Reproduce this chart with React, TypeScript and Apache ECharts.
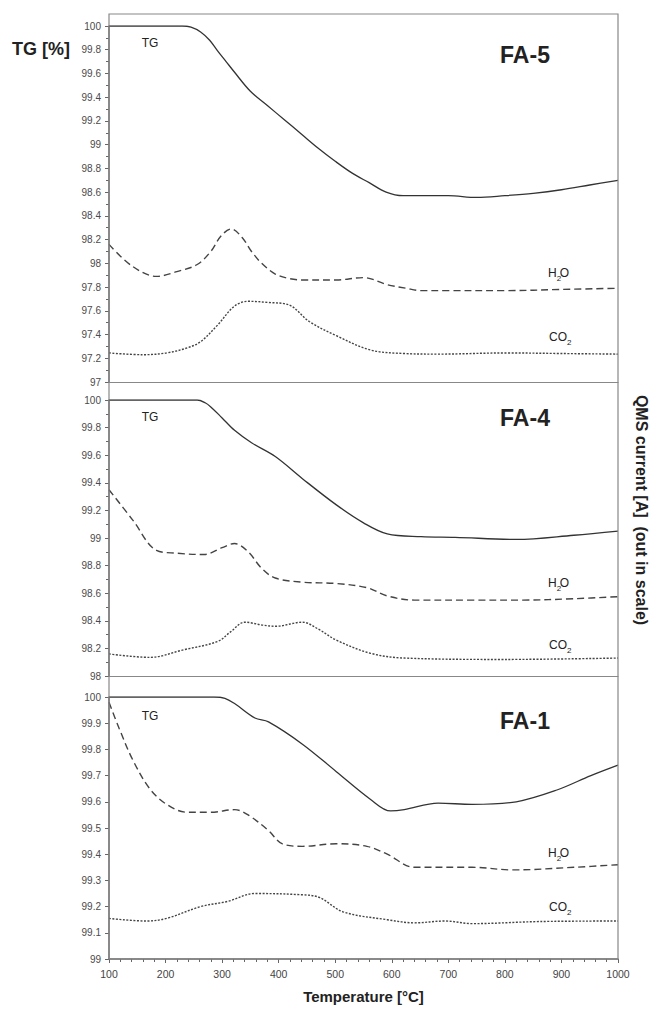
import React, { useEffect, useRef } from "react";
import * as echarts from "echarts";

// ---------- DATA ----------
// FA-5 (top panel)
const fa5TgT = [100, 200, 230, 245, 262, 278, 292, 307, 322, 350, 380, 410, 440, 470, 500, 530, 560, 590, 620, 650, 700, 750, 800, 850, 900, 950, 1000];
const fa5TgV = [100, 100, 100, 99.99, 99.95, 99.88, 99.79, 99.7, 99.61, 99.45, 99.33, 99.21, 99.09, 98.97, 98.86, 98.76, 98.68, 98.6, 98.57, 98.57, 98.57, 98.555, 98.57, 98.59, 98.62, 98.66, 98.7];
const fa5H2oT = [100, 140, 184, 220, 256, 280, 298, 316, 335, 352, 370, 394, 420, 442, 502, 550, 592, 625, 652, 700, 800, 900, 1000];
const fa5H2oV = [98.16, 97.98, 97.89, 97.93, 97.99, 98.1, 98.23, 98.29, 98.22, 98.1, 98.0, 97.91, 97.87, 97.86, 97.86, 97.88, 97.82, 97.79, 97.77, 97.77, 97.77, 97.78, 97.79];
const fa5Co2T = [100, 160, 202, 240, 262, 292, 322, 346, 382, 418, 454, 502, 562, 622, 682, 802, 900, 1000];
const fa5Co2V = [97.245, 97.23, 97.245, 97.29, 97.34, 97.48, 97.64, 97.68, 97.67, 97.65, 97.51, 97.39, 97.27, 97.24, 97.235, 97.245, 97.24, 97.235];

// FA-4 (middle panel)
const fa4TgT = [100, 200, 256, 270, 280, 300, 322, 352, 394, 442, 502, 550, 592, 652, 712, 820, 922, 1000];
const fa4TgV = [100, 100, 100, 99.98, 99.95, 99.87, 99.78, 99.69, 99.59, 99.43, 99.24, 99.11, 99.03, 99.01, 99.005, 98.99, 99.02, 99.05];
const fa4H2oT = [100, 142, 184, 220, 268, 300, 322, 346, 370, 394, 442, 502, 556, 592, 640, 742, 832, 922, 1000];
const fa4H2oV = [99.35, 99.13, 98.91, 98.89, 98.88, 98.93, 98.96, 98.9, 98.78, 98.71, 98.68, 98.67, 98.64, 98.58, 98.55, 98.55, 98.55, 98.56, 98.575];
const fa4Co2T = [100, 172, 232, 292, 315, 340, 370, 394, 442, 470, 502, 562, 622, 800, 1000];
const fa4Co2V = [98.16, 98.135, 98.19, 98.25, 98.32, 98.39, 98.37, 98.36, 98.39, 98.34, 98.26, 98.165, 98.13, 98.12, 98.13];

// FA-1 (bottom panel)
const fa1TgT = [100, 200, 286, 305, 322, 358, 382, 442, 502, 562, 598, 622, 682, 742, 820, 892, 952, 1000];
const fa1TgV = [100, 100, 100, 99.995, 99.975, 99.92, 99.905, 99.82, 99.715, 99.61, 99.565, 99.57, 99.595, 99.59, 99.6, 99.645, 99.7, 99.74];
const fa1H2oT = [100, 118, 142, 172, 202, 238, 280, 322, 346, 382, 406, 442, 502, 556, 592, 640, 742, 814, 922, 1000];
const fa1H2oV = [99.98, 99.88, 99.76, 99.65, 99.59, 99.56, 99.56, 99.57, 99.55, 99.49, 99.44, 99.43, 99.44, 99.43, 99.4, 99.35, 99.35, 99.34, 99.35, 99.36];
const fa1Co2T = [100, 166, 202, 262, 310, 358, 442, 472, 514, 592, 640, 694, 742, 862, 1000];
const fa1Co2V = [99.155, 99.145, 99.155, 99.2, 99.22, 99.25, 99.245, 99.235, 99.18, 99.15, 99.138, 99.145, 99.135, 99.143, 99.145];

// Axis definitions
const panelNames = ["FA-5", "FA-4", "FA-1"];
const yMins = [97, 98, 99];
const yMaxs = [100, 100, 100];
const yIntervals = [0.2, 0.2, 0.1];
const yMinorSplits = [2, 2, 0];
const xMin = 100;
const xMax = 1000;
const xInterval = 100;

// ---------- LAYOUT ----------
const FONT = '"Liberation Sans", Arial, sans-serif';
const PLOT_L = 109;
const PLOT_R = 618;
const FRAME_TOP = 14;
const grids = [
  { top: 26, bottom: 382 },
  { top: 400, bottom: 676 },
  { top: 697, bottom: 959 },
];
const INK = "#333";
const AXIS = "#666";

const zip = (t: number[], v: number[]) => t.map((x, i) => [x, v[i]]);

const panelSeries = [
  { tg: zip(fa5TgT, fa5TgV), h2o: zip(fa5H2oT, fa5H2oV), co2: zip(fa5Co2T, fa5Co2V) },
  { tg: zip(fa4TgT, fa4TgV), h2o: zip(fa4H2oT, fa4H2oV), co2: zip(fa4Co2T, fa4Co2V) },
  { tg: zip(fa1TgT, fa1TgV), h2o: zip(fa1H2oT, fa1H2oV), co2: zip(fa1Co2T, fa1Co2V) },
];

const labelY = [
  { tg: 43, name: 55, h2o: 273, co2: 337 },
  { tg: 417, name: 418, h2o: 583, co2: 645 },
  { tg: 716, name: 721, h2o: 853, co2: 907 },
];

function txt(x: number, y: number, text: string, size: number, bold = false, align = "left", extra: any = {}) {
  return {
    type: "text",
    x,
    y,
    silent: true,
    ...extra,
    style: {
      text,
      fontSize: size,
      fontWeight: bold ? "bold" : "normal",
      fontFamily: FONT,
      fill: "#222",
      align,
      verticalAlign: "middle",
    },
  };
}

function chem(x0: number, y: number, a: string, aw: number, sub: string, b: string, subShift: number) {
  const els: any[] = [txt(x0, y, a, 12, false, "left", {}), txt(x0 + aw, y + 5, sub, 8, false, "left", {})];
  if (b) els.push(txt(x0 + aw + subShift, y, b, 12, false, "left", {}));
  return els;
}

function buildOption() {
  const gridOpts = grids.map((g) => ({
    left: PLOT_L,
    width: PLOT_R - PLOT_L,
    top: g.top,
    height: g.bottom - g.top,
    containLabel: false,
  }));

  const xAxes = grids.map((_, i) => {
    const last = i === grids.length - 1;
    return {
      type: "value",
      gridIndex: i,
      min: xMin,
      max: xMax,
      interval: xInterval,
      axisLine: { show: true, lineStyle: { color: last ? AXIS : "#888", width: last ? 1.5 : 1.2 } },
      axisTick: { show: last, inside: false, length: 4, lineStyle: { color: AXIS } },
      minorTick: { show: last, splitNumber: 5, length: 3, lineStyle: { color: AXIS } },
      axisLabel: {
        show: last,
        color: "#444",
        fontSize: 10.5,
        fontFamily: FONT,
        margin: 9,
        formatter: (v: number) => String(v),
      },
      splitLine: { show: false },
      minorSplitLine: { show: false },
    };
  });

  const yAxes = grids.map((_, i) => ({
    type: "value",
    gridIndex: i,
    min: yMins[i],
    max: yMaxs[i],
    interval: yIntervals[i],
    axisLine: { show: true, lineStyle: { color: AXIS, width: 1.5 } },
    axisTick: { show: true, length: 4, lineStyle: { color: AXIS } },
    minorTick: { show: yMinorSplits[i] > 0, splitNumber: yMinorSplits[i] || 2, length: 3, lineStyle: { color: AXIS } },
    axisLabel: { color: "#4a4a4a", fontSize: 10, fontFamily: FONT, margin: 8 },
    splitLine: { show: false },
    minorSplitLine: { show: false },
  }));

  const series: any[] = [];
  panelSeries.forEach((p, i) => {
    const base = { type: "line", xAxisIndex: i, yAxisIndex: i, showSymbol: false, symbol: "none", smooth: 0.35, silent: true };
    series.push({ ...base, name: panelNames[i] + " TG", data: p.tg, lineStyle: { color: INK, width: 1.3, type: "solid" } });
    series.push({ ...base, name: panelNames[i] + " H2O", data: p.h2o, lineStyle: { color: "#444", width: 1.4, type: [7, 4] } });
    series.push({ ...base, name: panelNames[i] + " CO2", data: p.co2, lineStyle: { color: "#444", width: 1.4, type: [2, 1.5] } });
  });

  const graphics: any[] = [
    {
      type: "rect",
      silent: true,
      shape: { x: PLOT_L, y: FRAME_TOP, width: PLOT_R - PLOT_L, height: grids[2].bottom - FRAME_TOP },
      style: { fill: "none", stroke: "#888", lineWidth: 1.2 },
      z: 10,
    },
    txt(12, 49, "TG [%]", 18, true, "left"),
    txt(641, 510, "QMS current [A]  (out in scale)", 16, true, "center", { rotation: -Math.PI / 2 }),
    txt((PLOT_L + PLOT_R) / 2, 996, "Temperature [°C]", 15, true, "center"),
  ];
  labelY.forEach((ly, i) => {
    graphics.push(txt(150, ly.tg, "TG", 12, false, "center"));
    graphics.push(txt(525, ly.name, panelNames[i], 23, true, "center"));
    graphics.push(...chem(548, ly.h2o, "H", 8.7, "2", "O", 3));
    graphics.push(...chem(549, ly.co2, "CO", 18, "2", "", 0));
  });

  return {
    animation: false,
    backgroundColor: "#fff",
    grid: gridOpts,
    xAxis: xAxes,
    yAxis: yAxes,
    series,
    graphic: graphics,
  };
}

export default function App() {
  const ref = useRef<HTMLDivElement>(null);
  useEffect(() => {
    if (!ref.current) return;
    const chart = echarts.init(ref.current, null, { renderer: "svg" });
    chart.setOption(buildOption() as any);
    return () => chart.dispose();
  }, []);
  return <div ref={ref} style={{ position: "absolute", left: 0, top: 0, width: 649, height: 1009 }} />;
}
